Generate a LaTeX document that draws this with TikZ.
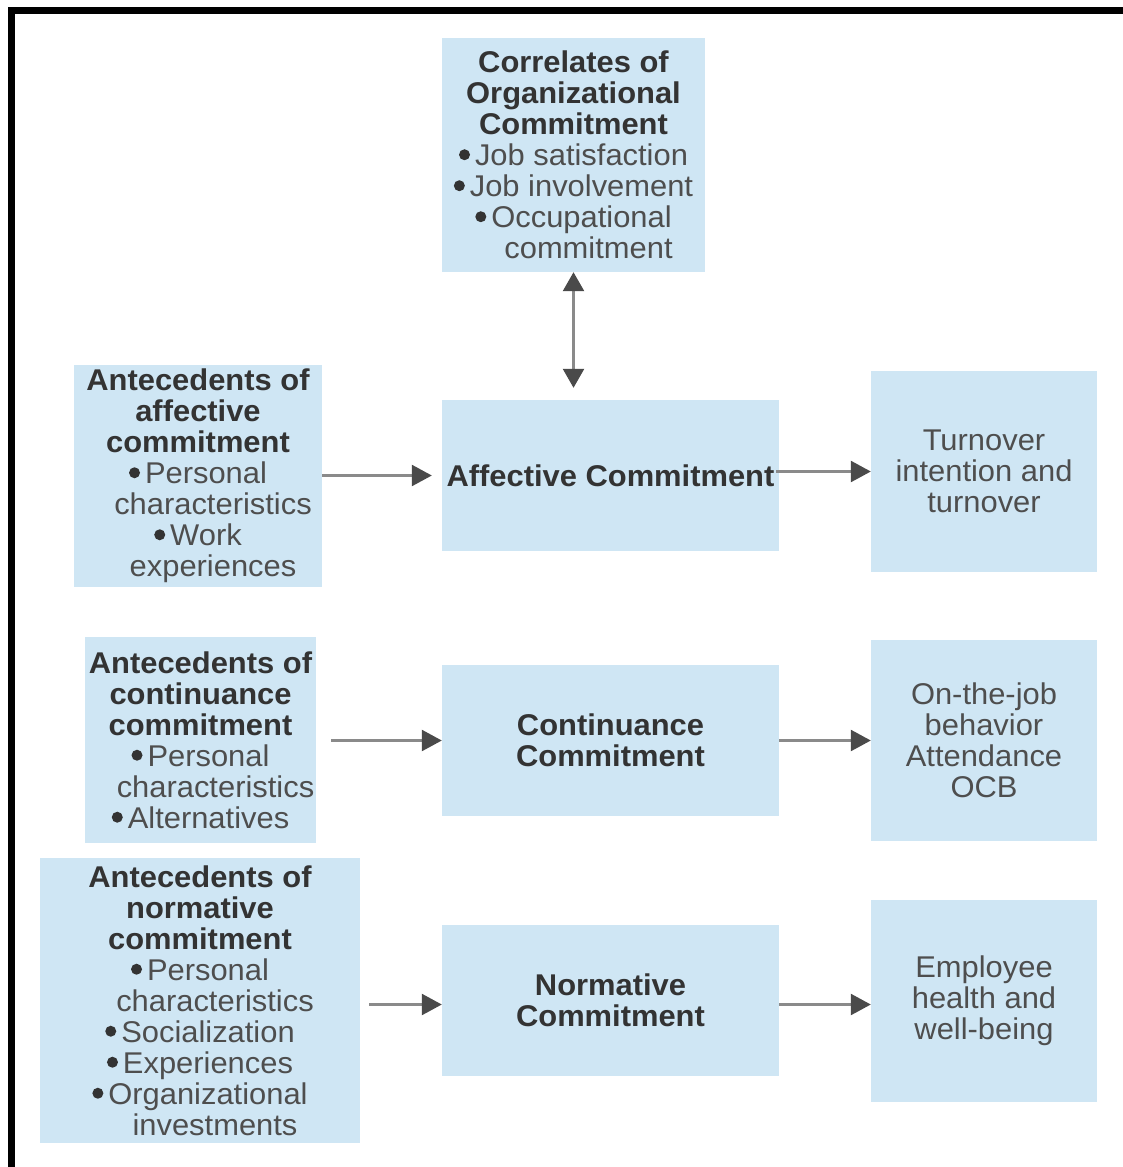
\documentclass[tikz,border=0pt]{standalone}
\usepackage{fontspec}
\setmainfont{Liberation Sans}[FakeStretch=1.03]
\usetikzlibrary{arrows.meta}
\definecolor{boxblue}{HTML}{CFE6F4}
\definecolor{bodytext}{HTML}{4E4E4E}
\definecolor{headtext}{HTML}{333333}
\definecolor{shaft}{HTML}{8A8A8A}
\definecolor{tipgray}{HTML}{4A4A4A}
% round bullet sitting at mid x-height
\newcommand{\bul}{\tikz[baseline=-11pt]\fill[headtext] (0pt,0pt) circle[radius=5.5pt];\hspace{5pt}}
\newcommand{\cont}{\hspace*{30pt}}
\newcommand{\hd}[1]{{\bfseries\color{headtext}#1}}
\begin{document}
\begin{tikzpicture}[x=1pt,y=-1pt,
  box/.style={fill=boxblue, draw=none, inner sep=0pt, align=center,
    text=bodytext, font=\fontsize{30}{31}\selectfont},
  arr/.style={line width=2.5pt, draw=shaft,
    -{Triangle[length=20pt,width=21pt,color=tipgray]}},
  dblarr/.style={line width=2.5pt, draw=shaft,
    {Triangle[length=19pt,width=21pt,color=tipgray]}-{Triangle[length=19pt,width=21pt,color=tipgray]}}]
\useasboundingbox (0,0) rectangle (1123,1167);
% open frame: top and left edges
\fill[black] (8,7) rectangle (1123,14);
\fill[black] (8,7) rectangle (15,1167);

% correlates
\node[box, minimum width=263pt, minimum height=234pt] (co) at (573.5,155)
  {\hd{Correlates of}\\ \hd{Organizational}\\ \hd{Commitment}\\
   \bul Job satisfaction\\ \bul Job involvement\\ \bul Occupational\\ \cont commitment};

% affective row
\node[box, minimum width=248pt, minimum height=222pt] (aa) at (198,476)
  {\hd{Antecedents of}\\ \hd{affective}\\ \hd{commitment}\\
   \bul Personal\\ \cont characteristics\\ \bul Work\\ \cont experiences};
\node[box, minimum width=337pt, minimum height=151pt] (ac) at (610.5,475.5)
  {\hd{Affective Commitment}};
\node[box, minimum width=226pt, minimum height=201pt] (to) at (984,471.5)
  {Turnover\\ intention and\\ turnover};

% continuance row
\node[box, minimum width=231pt, minimum height=206pt] (ca) at (200.5,740)
  {\hd{Antecedents of}\\ \hd{continuance}\\ \hd{commitment}\\
   \bul Personal\\ \cont characteristics\\ \bul Alternatives};
\node[box, minimum width=337pt, minimum height=151pt] (cc) at (610.5,740.5)
  {\hd{Continuance}\\ \hd{Commitment}};
\node[box, minimum width=226pt, minimum height=201pt] (ob) at (984,740.5)
  {On-the-job\\ behavior\\ Attendance\\ OCB};

% normative row
\node[box, minimum width=320pt, minimum height=285pt] (na) at (200,1000.5)
  {\hd{Antecedents of}\\ \hd{normative}\\ \hd{commitment}\\
   \bul Personal\\ \cont characteristics\\ \bul Socialization\\ \bul Experiences\\
   \bul Organizational\\ \cont investments};
\node[box, minimum width=337pt, minimum height=151pt] (nc) at (610.5,1000.5)
  {\hd{Normative}\\ \hd{Commitment}};
\node[box, minimum width=226pt, minimum height=202pt] (eh) at (984,1001)
  {Employee\\ health and\\ well-being};

% connectors
\draw[dblarr, shorten >=12pt] (co.south) -- (co.south |- ac.north);
\draw[arr, shorten >=10pt] (aa.east |- ac.west) -- (ac.west);
\draw[arr, shorten <=-3pt] (ac.east |- to.west) -- (to.west);
\draw[arr, shorten <=15pt] (ca.east |- cc.west) -- (cc.west);
\draw[arr] (cc.east |- ob.west) -- (ob.west);
\draw[arr, shorten <=9pt] ([yshift=-4pt]na.east) -- ([yshift=-4pt]nc.west);
\draw[arr] ([yshift=-4pt]nc.east) -- ([yshift=-4pt]eh.west |- nc.east);
\end{tikzpicture}
\end{document}
